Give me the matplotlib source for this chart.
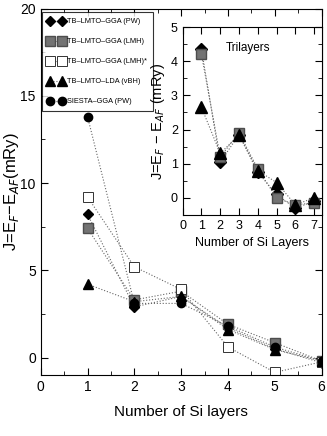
import matplotlib.pyplot as plt
from matplotlib.ticker import MultipleLocator

plt.rcParams['font.family'] = ['Liberation Sans', 'DejaVu Sans']

# main panel: data vs number of Si layers
layers = [1, 2, 3, 4, 5, 6]
gga_pw = [8.2, 2.9, 3.5, 1.7, 0.5, -0.3]
gga_lmh = [7.4, 3.3, 3.8, 1.9, 0.85, -0.2]
gga_lmh_star = [9.2, 5.2, 3.9, 0.6, -0.85, -0.25]
lda_vbh = [4.2, 3.2, 3.5, 1.6, 0.45, -0.2]
siesta_pw = [13.8, 3.1, 3.1, 1.8, 0.6, -0.2]

# inset: trilayers
tri_layers = [1, 2, 3, 4, 5, 6, 7]
tri_pw = [4.35, 1.05, 1.85, 0.75, 0.1, -0.3, -0.1]
tri_lmh = [4.2, 1.2, 1.9, 0.85, 0.0, -0.2, -0.15]
tri_lda = [2.65, 1.3, 1.85, 0.8, 0.45, -0.2, 0.0]

line_kw = dict(color='0.4', ls=':', lw=0.8)

fig = plt.figure(figsize=(3.27, 4.36), dpi=100)
ax = fig.add_axes([0.1245, 0.140, 0.859, 0.8405])

ax.plot(layers, gga_pw, marker='D', ms=5, mfc='black', mec='black', label='TB\u2013LMTO\u2013GGA (PW)', **line_kw)
ax.plot(layers, gga_lmh, marker='s', ms=6.5, mfc='0.45', mec='0.3', label='TB\u2013LMTO\u2013GGA (LMH)', **line_kw)
ax.plot(layers, gga_lmh_star, marker='s', ms=6.5, mfc='white', mec='0.2', mew=0.7, label='TB\u2013LMTO\u2013GGA (LMH)*', **line_kw)
ax.plot(layers, lda_vbh, marker='^', ms=7, mfc='black', mec='black', label='TB\u2013LMTO\u2013LDA (vBH)', **line_kw)
ax.plot(layers, siesta_pw, marker='o', ms=6, mfc='black', mec='black', label='SIESTA\u2013GGA (PW)', **line_kw)

ax.set_xlim(0, 6)
ax.set_ylim(-1, 20)
ax.xaxis.set_major_locator(MultipleLocator(1))
ax.xaxis.set_minor_locator(MultipleLocator(0.5))
ax.yaxis.set_major_locator(MultipleLocator(5))
ax.yaxis.set_minor_locator(MultipleLocator(2.5))
ax.tick_params(which='both', direction='in', top=True, right=True, labelsize=10)
ax.tick_params(which='major', length=5)
ax.tick_params(which='minor', length=3)
ax.set_xlabel('Number of Si layers', fontsize=11, labelpad=8)
ax.set_ylabel('J=E$_F$\u2212E$_{AF}$(mRy)', fontsize=12)
ax.yaxis.set_label_coords(-0.07, 0.5)

leg = ax.legend(loc='upper left', numpoints=2, fontsize=5.3, frameon=True, fancybox=False,
                edgecolor='black', handlelength=2.2, handletextpad=0.4, labelspacing=1.75,
                borderpad=0.8, borderaxespad=0, bbox_to_anchor=(0.005, 0.99))
leg.get_frame().set_linewidth(0.8)

# inset
ins = fig.add_axes([0.5587, 0.5069, 0.4248, 0.4311])
ins.plot(tri_layers, tri_pw, marker='D', ms=6, mfc='black', mec='black', **line_kw)
ins.plot(tri_layers, tri_lmh, marker='s', ms=7.5, mfc='0.45', mec='0.3', **line_kw)
ins.plot(tri_layers, tri_lda, marker='^', ms=8, mfc='black', mec='black', **line_kw)
ins.set_xlim(0, 7.4)
ins.set_ylim(-0.5, 5)
ins.xaxis.set_major_locator(MultipleLocator(1))
ins.yaxis.set_major_locator(MultipleLocator(1))
ins.yaxis.set_minor_locator(MultipleLocator(0.5))
ins.tick_params(which='both', direction='in', top=True, right=True, labelsize=9)
ins.tick_params(which='major', length=5)
ins.tick_params(which='minor', length=3)
ins.text(2.3, 4.3, 'Trilayers', fontsize=8.5)
ins.set_xlabel('Number of Si Layers', fontsize=9, labelpad=4)
ins.set_ylabel('J=E$_F$ \u2212 E$_{AF}$ (mRy)', fontsize=10.5, labelpad=3)

plt.savefig('out.png', dpi=100)
